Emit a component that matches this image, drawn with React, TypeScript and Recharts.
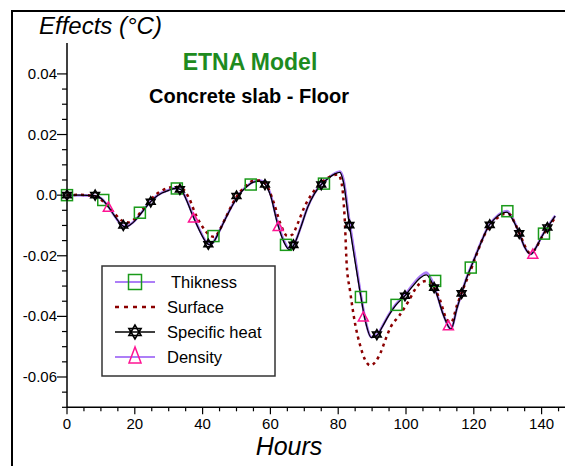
import { ComposedChart, Line, Scatter, XAxis, YAxis } from 'recharts'

// hours shared by the three solid curves
const hours = [
  0, 4, 8, 10, 12, 14, 16, 17, 18, 20, 22, 24, 26, 28, 30, 32, 33.5, 35, 37, 39, 41, 42, 43, 45, 47, 49,
  51, 53, 55, 57, 58.5, 60, 62, 64, 65.6, 67, 69, 71, 73, 75, 77, 79, 80.5, 81.5, 83.3, 85, 86.7, 88,
  89.8, 91.5, 93, 95, 97, 99.7, 102, 104, 106, 107.5, 109, 111, 113.3, 115, 116.4, 118, 120, 122, 124.5,
  126, 128, 129.8, 131, 133.4, 135, 136.8, 138.5, 140, 141.7, 144,
]

const specificHeat = [
  0, 0, -0.0002, -0.001, -0.0035, -0.0068, -0.0097, -0.0104, -0.0102, -0.0085, -0.0058, -0.003, -0.0008,
  0.0007, 0.0016, 0.0022, 0.0019, -0.001, -0.0065, -0.0115, -0.0155, -0.0164, -0.0158, -0.0118, -0.0072,
  -0.003, 0.0005, 0.0028, 0.0043, 0.0046, 0.0035, 0.0, -0.009, -0.0155, -0.018, -0.0163, -0.0105, -0.004,
  0.0005, 0.0035, 0.0055, 0.007, 0.0075, 0.0045, -0.0099, -0.022, -0.0336, -0.0415, -0.047, -0.0462,
  -0.0435, -0.0395, -0.0363, -0.0332, -0.03, -0.0275, -0.0263, -0.0285, -0.0325, -0.0395, -0.0442,
  -0.0375, -0.0324, -0.027, -0.0215, -0.016, -0.01, -0.008, -0.0062, -0.0056, -0.0072, -0.0126, -0.0172,
  -0.0195, -0.017, -0.0138, -0.0107, -0.0069,
]

const thikness = [
  0, 0, -0.0002, -0.001, -0.0035, -0.0068, -0.0097, -0.0103, -0.0101, -0.0084, -0.0057, -0.0029, -0.0007,
  0.0008, 0.0017, 0.0023, 0.002, -0.0008, -0.0062, -0.0112, -0.0153, -0.0162, -0.0157, -0.0117, -0.0071,
  -0.0029, 0.0006, 0.0029, 0.0044, 0.0048, 0.0038, 0.0004, -0.0085, -0.015, -0.0178, -0.0162, -0.0104,
  -0.0039, 0.0006, 0.0036, 0.0056, 0.0072, 0.0078, 0.0055, -0.0085, -0.0205, -0.033, -0.041, -0.0468,
  -0.046, -0.0433, -0.0393, -0.036, -0.0328, -0.0295, -0.027, -0.0255, -0.0278, -0.0322, -0.0393, -0.0441,
  -0.0374, -0.0323, -0.0269, -0.0214, -0.0159, -0.0099, -0.0078, -0.0059, -0.0052, -0.0068, -0.0124,
  -0.0171, -0.0194, -0.0169, -0.0137, -0.0106, -0.0068,
]

const density = [
  0, 0, -0.0002, -0.001, -0.0035, -0.0068, -0.0097, -0.0103, -0.0101, -0.0084, -0.0057, -0.0029, -0.0007,
  0.0008, 0.0017, 0.0023, 0.002, -0.0008, -0.0063, -0.0113, -0.0154, -0.0163, -0.0157, -0.0117, -0.0071,
  -0.0029, 0.0006, 0.0029, 0.0044, 0.0047, 0.0037, 0.0003, -0.0087, -0.0152, -0.0179, -0.0162, -0.0104,
  -0.0039, 0.0006, 0.0036, 0.0056, 0.0071, 0.0077, 0.0052, -0.0088, -0.021, -0.0332, -0.0412, -0.0469,
  -0.0461, -0.0434, -0.0394, -0.0361, -0.033, -0.0297, -0.0272, -0.0258, -0.028, -0.0323, -0.0394,
  -0.0442, -0.0375, -0.0323, -0.0269, -0.0214, -0.0159, -0.0099, -0.0079, -0.006, -0.0054, -0.007,
  -0.0125, -0.0172, -0.0195, -0.017, -0.0137, -0.0106, -0.0068,
]

const surfaceHours = [
  0, 4, 8, 10, 12, 14, 16, 18, 20, 22, 24, 26, 28, 30, 32, 34, 36, 38, 40, 42, 43.5, 45, 47, 49, 51, 53,
  55, 57, 59, 61, 63, 65, 66.5, 68, 70, 72, 74, 76, 78, 80, 81, 82, 82.5, 83.5, 85, 86.5, 88, 89.5, 91,
  92.5, 94, 95.5, 98, 101, 103, 105, 106.5, 108, 110, 112, 113.3, 115, 117, 119, 121, 123, 125, 127, 129,
  130.5, 132, 134, 136.5, 138, 140, 142, 144,
]
const surface = [
  0, 0.0001, -0.0003, -0.0015, -0.0035, -0.006, -0.0083, -0.009, -0.0078, -0.0052, -0.0025, 0, 0.0015,
  0.0024, 0.0028, 0.0022, -0.001, -0.0065, -0.0105, -0.0132, -0.0138, -0.0115, -0.007, -0.0025, 0.001,
  0.0033, 0.0048, 0.0048, 0.003, -0.0025, -0.0095, -0.0135, -0.013, -0.0095, -0.004, 0, 0.003, 0.005,
  0.0063, 0.0068, 0.004, -0.0096, -0.0228, -0.0316, -0.0425, -0.0497, -0.0545, -0.0562, -0.055, -0.052,
  -0.0475, -0.0435, -0.0398, -0.0345, -0.0305, -0.0285, -0.0283, -0.03, -0.0345, -0.041, -0.042, -0.0365,
  -0.0305, -0.025, -0.019, -0.0135, -0.0098, -0.0075, -0.0062, -0.0063, -0.009, -0.014, -0.019, -0.018,
  -0.014, -0.0105, -0.0075,
]

// marker positions
const starHours = [0, 8.3, 16.6, 24.7, 33.3, 41.7, 50, 58.4, 66.8, 75, 83.3, 91.4, 99.7, 108.3, 116.4, 124.7, 133.4, 141.7]
const starVals = [0, 0, -0.01, -0.0022, 0.0019, -0.0162, -0.0003, 0.0035, -0.0164, 0.0035, -0.0099, -0.046, -0.0332, -0.0305, -0.0324, -0.0098, -0.0126, -0.0107]
const squareHours = [0, 10.7, 21.5, 32.4, 43.2, 54.2, 64.6, 75.8, 86.7, 97.2, 108.6, 119.1, 129.9, 140.7]
const squareVals = [0, -0.0016, -0.0058, 0.0022, -0.0135, 0.0035, -0.0164, 0.0038, -0.0336, -0.0362, -0.0283, -0.0239, -0.0053, -0.0127]
const triangleHours = [12.2, 37.3, 62.3, 87.4, 112.5, 137.4]
const triangleVals = [-0.0038, -0.0074, -0.0102, -0.04, -0.0429, -0.0193]

const xTicks = [0, 5, 10, 15, 20, 25, 30, 35, 40, 45, 50, 55, 60, 65, 70, 75, 80, 85, 90, 95, 100, 105, 110, 115, 120, 125, 130, 135, 140, 145, 150]
const xLabels = [0, 20, 40, 60, 80, 100, 120, 140]
const yTicks = [-0.07, -0.065, -0.06, -0.055, -0.05, -0.045, -0.04, -0.035, -0.03, -0.025, -0.02, -0.015, -0.01, -0.005, 0, 0.005, 0.01, 0.015, 0.02, 0.025, 0.03, 0.035, 0.04]
const yMajor = [-0.06, -0.04, -0.02, 0, 0.02, 0.04]
const yLabels = ['-0.06', '-0.04', '-0.02', '0.0', '0.02', '0.04']

const font = "Arial, 'Liberation Sans', sans-serif"
const VIOLET = '#AD7EF7'
const RED = '#8B0000'
const GREEN = '#1A9A1A'
const PINK = '#FF1493'

const pts = (xs: number[], ys: number[]) => xs.map((h, i) => ({ h, v: ys[i] }))

function StarMark({ cx, cy, r = 5 }: { cx: number; cy: number; r?: number }) {
  const dx = r * 0.866
  return (
    <g fill="none" stroke="#000" strokeWidth={1.6}>
      <polygon points={`${cx},${cy - r} ${cx - dx},${cy + r / 2} ${cx + dx},${cy + r / 2}`} />
      <polygon points={`${cx},${cy + r} ${cx - dx},${cy - r / 2} ${cx + dx},${cy - r / 2}`} />
    </g>
  )
}

function SquareMark({ cx, cy, w = 11, h = 11 }: { cx: number; cy: number; w?: number; h?: number }) {
  return <rect x={cx - w / 2} y={cy - h / 2} width={w} height={h} fill="none" stroke={GREEN} strokeWidth={1.5} />
}

function TriMark({ cx, cy, w = 10, h = 9 }: { cx: number; cy: number; w?: number; h?: number }) {
  return (
    <polygon
      points={`${cx},${cy - h / 2} ${cx - w / 2},${cy + h / 2} ${cx + w / 2},${cy + h / 2}`}
      fill="none"
      stroke={PINK}
      strokeWidth={1.5}
    />
  )
}

function XTick({ x, y, payload }: any) {
  const major = xLabels.includes(payload.value)
  return (
    <g>
      <line x1={x} y1={y} x2={x} y2={y + (major ? 7 : 4)} stroke="#000" strokeWidth={1.2} />
      {major && (
        <text x={x} y={y + 22} textAnchor="middle" fontSize={15} fontFamily={font} fill="#000">
          {payload.value}
        </text>
      )}
    </g>
  )
}

function YTick({ x, y, payload }: any) {
  const idx = yMajor.findIndex((m) => Math.abs(m - payload.value) < 1e-6)
  const major = idx >= 0
  return (
    <g>
      <line x1={x - (major ? 10 : 5)} y1={y} x2={x} y2={y} stroke="#000" strokeWidth={1.2} />
      {major && (
        <text x={x - 10} y={y + 5} textAnchor="end" fontSize={15} fontFamily={font} fill="#000">
          {yLabels[idx]}
        </text>
      )}
    </g>
  )
}

export default function App() {
  return (
    <div style={{ position: 'relative', width: 565, height: 458, overflow: 'hidden', background: '#fff' }}>
      <div
        style={{ position: 'absolute', left: 3, top: 2, width: 700, height: 700, border: '2px solid #000' }}
      />
      <div style={{ position: 'absolute', left: 0, top: 0 }}>
        <ComposedChart width={600} height={458} margin={{ top: 35, right: 32.5, left: 0, bottom: 28.7 }}>
          <XAxis
            dataKey="h"
            type="number"
            domain={[0, 150]}
            ticks={xTicks}
            interval={0}
            tick={<XTick />}
            tickLine={false}
            tickSize={0}
            tickMargin={0}
            height={30}
            axisLine={{ stroke: '#000', strokeWidth: 1.5 }}
          />
          <YAxis
            type="number"
            domain={[-0.07, 0.0502]}
            ticks={yTicks}
            interval={0}
            tick={<YTick />}
            tickLine={false}
            tickSize={0}
            tickMargin={0}
            width={59}
            allowDataOverflow
            axisLine={{ stroke: '#000', strokeWidth: 1.5 }}
          />
          <Line data={pts(hours, thikness)} dataKey="v" type="monotone" stroke={VIOLET} strokeWidth={2.5} dot={false} isAnimationActive={false} />
          <Line data={pts(hours, density)} dataKey="v" type="monotone" stroke={VIOLET} strokeWidth={2} dot={false} isAnimationActive={false} />
          <Line data={pts(surfaceHours, surface)} dataKey="v" type="monotone" stroke={RED} strokeWidth={2.5} strokeDasharray="3 4" dot={false} isAnimationActive={false} />
          <Line data={pts(hours, specificHeat)} dataKey="v" type="monotone" stroke="#000" strokeWidth={1.3} dot={false} isAnimationActive={false} />
          <Scatter data={pts(squareHours, squareVals)} dataKey="v" isAnimationActive={false} shape={(p: any) => <SquareMark cx={p.cx} cy={p.cy} />} />
          <Scatter data={pts(triangleHours, triangleVals)} dataKey="v" isAnimationActive={false} shape={(p: any) => <TriMark cx={p.cx} cy={p.cy} />} />
          <Scatter data={pts(starHours, starVals)} dataKey="v" isAnimationActive={false} shape={(p: any) => <StarMark cx={p.cx} cy={p.cy} />} />
        </ComposedChart>
      </div>
      <svg width={565} height={458} style={{ position: 'absolute', left: 0, top: 0, pointerEvents: 'none' }}>
        <text x={31} y={26} fontSize={24} fontStyle="italic" fontFamily={font} fill="#000">
          Effects (°C)
        </text>
        <text x={242} y={62} textAnchor="middle" fontSize={23} fontWeight="bold" fontFamily={font} fill="#1E8B1E">
          ETNA Model
        </text>
        <text x={241} y={95} textAnchor="middle" fontSize={20} fontWeight="bold" fontFamily={font} fill="#000">
          Concrete slab - Floor
        </text>
        <text x={281} y={447} textAnchor="middle" fontSize={25} fontStyle="italic" fontFamily={font} fill="#000">
          Hours
        </text>
        <g>
          <rect x={94} y={258} width={173} height={110} fill="#fff" stroke="#333" strokeWidth={1.5} />
          <line x1={107} y1={274} x2={147} y2={274} stroke={VIOLET} strokeWidth={2} />
          <SquareMark cx={127} cy={274} w={13} h={15} />
          <line x1={107} y1={299} x2={147} y2={299} stroke={RED} strokeWidth={2.5} strokeDasharray="4 5" />
          <line x1={107} y1={324} x2={147} y2={324} stroke="#000" strokeWidth={1.3} />
          <StarMark cx={127} cy={324} r={7} />
          <line x1={107} y1={349} x2={147} y2={349} stroke={VIOLET} strokeWidth={2} />
          <TriMark cx={127} cy={347} w={12} h={16} />
          <g fontSize={16.5} fontFamily={font} fill="#000">
            <text x={163} y={280}>Thikness</text>
            <text x={159} y={305}>Surface</text>
            <text x={159} y={330}>Specific heat</text>
            <text x={159} y={355}>Density</text>
          </g>
        </g>
      </svg>
    </div>
  )
}
